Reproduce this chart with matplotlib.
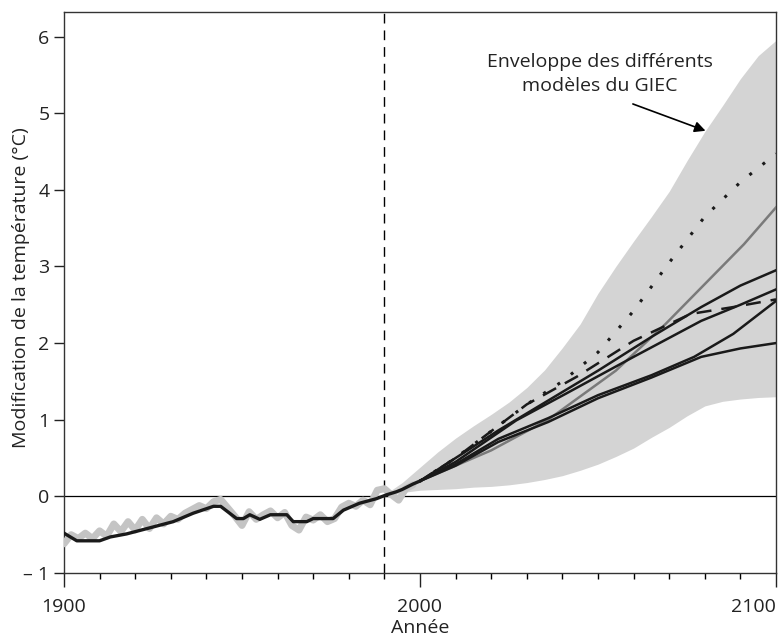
import matplotlib
matplotlib.use('Agg')
import matplotlib.pyplot as plt
import numpy as np
from matplotlib.ticker import MultipleLocator

# observed (gray, noisy) and smoothed (black) record 1900-2000
obs_years = [1900, 1902, 1904, 1906, 1908, 1910, 1912, 1914, 1916, 1918, 1920, 1922, 1924,
             1926, 1928, 1930, 1932, 1934, 1936, 1938, 1940, 1942, 1944, 1946, 1948, 1950,
             1952, 1954, 1956, 1958, 1960, 1962, 1964, 1966, 1968, 1970, 1972, 1974, 1976,
             1978, 1980, 1982, 1984, 1986, 1988, 1990, 1992, 1994, 1996, 1998]
obs_vals = [-0.62, -0.5, -0.55, -0.48, -0.55, -0.45, -0.52, -0.36, -0.46, -0.33, -0.44, -0.3, -0.42,
            -0.28, -0.36, -0.26, -0.3, -0.22, -0.17, -0.12, -0.16, -0.07, -0.04, -0.15, -0.26, -0.38,
            -0.2, -0.3, -0.24, -0.19, -0.28, -0.21, -0.38, -0.44, -0.27, -0.31, -0.24, -0.33, -0.29,
            -0.14, -0.09, -0.13, -0.05, -0.11, 0.08, 0.1, 0.02, -0.05, 0.1, 0.15]

smooth_years = [1900, 1903.6, 1910, 1913, 1917.6, 1925, 1930.7, 1936.3, 1942, 1944, 1948.5, 1950.4,
                1952.2, 1955, 1958, 1962.6, 1964.4, 1968.2, 1970, 1975.6, 1978.5, 1983, 1987.8,
                1990.6, 1993.4, 1995, 1998, 2000]
smooth_vals = [-0.48, -0.58, -0.58, -0.53, -0.49, -0.40, -0.33, -0.22, -0.13, -0.13, -0.29, -0.29,
               -0.24, -0.30, -0.24, -0.24, -0.33, -0.33, -0.29, -0.29, -0.18, -0.09, -0.03,
               0.02, 0.06, 0.09, 0.16, 0.2]

# envelope of IPCC models
env_years = [1990, 1995, 2000, 2005, 2010, 2015, 2020, 2025, 2030, 2035, 2040, 2045, 2050, 2055,
             2060, 2065, 2070, 2075, 2080, 2085, 2090, 2095, 2100]
env_upper = [0.02, 0.18, 0.38, 0.58, 0.76, 0.92, 1.07, 1.23, 1.42, 1.65, 1.94, 2.25, 2.65, 3.0,
             3.33, 3.65, 3.98, 4.38, 4.76, 5.1, 5.45, 5.75, 5.95]
env_lower = [-0.02, 0.05, 0.08, 0.09, 0.1, 0.12, 0.13, 0.15, 0.18, 0.22, 0.27, 0.34, 0.42, 0.52,
             0.63, 0.77, 0.9, 1.05, 1.18, 1.24, 1.27, 1.29, 1.3]

# scenarios
dot_years = [2000, 2010, 2020, 2030, 2040, 2050, 2060, 2070, 2080, 2090, 2100]
dot_vals = [0.2, 0.5, 0.85, 1.2, 1.5, 1.88, 2.42, 3.05, 3.65, 4.1, 4.47]

dash_years = [2000, 2010, 2018, 2030, 2044, 2060, 2076, 2088, 2100]
dash_vals = [0.2, 0.5, 0.78, 1.2, 1.56, 2.03, 2.38, 2.47, 2.57]

gray_years = [2000, 2010, 2020, 2036, 2055, 2069, 2091, 2100]
gray_vals = [0.2, 0.4, 0.6, 1.0, 1.64, 2.25, 3.29, 3.77]

a_years = [2000, 2010, 2022, 2036, 2050, 2065, 2079, 2090, 2100]
a_vals = [0.2, 0.5, 0.86, 1.25, 1.64, 2.08, 2.47, 2.75, 2.95]
b_years = [2000, 2010, 2027, 2041, 2060, 2079, 2090, 2100]
b_vals = [0.2, 0.45, 0.99, 1.34, 1.82, 2.29, 2.5, 2.7]
c_years = [2000, 2010, 2022, 2036, 2050, 2065, 2077, 2088, 2100]
c_vals = [0.2, 0.42, 0.75, 1.02, 1.32, 1.58, 1.82, 2.12, 2.55]
d_years = [2000, 2010, 2022, 2036, 2050, 2065, 2079, 2090, 2100]
d_vals = [0.2, 0.4, 0.71, 0.97, 1.28, 1.55, 1.82, 1.93, 2.0]

plt.rcParams['font.family'] = ['Open Sans', 'DejaVu Sans']

fig = plt.figure(figsize=(7.84, 6.42), dpi=100)
ax = fig.add_axes([0.0816, 0.1075, 0.9082, 0.8738])

ax.fill_between(env_years, env_lower, env_upper, color='#d4d4d4', lw=0, zorder=1)
ax.axhline(0, color='black', lw=0.9, zorder=2)
ax.axvline(1990, color='black', lw=1.0, ls=(0, (7, 5)), zorder=2)

ax.plot(obs_years, obs_vals, color='#c4c4c4', lw=5, solid_capstyle='round', zorder=3)
ax.plot(smooth_years, smooth_vals, color='#1a1a1a', lw=2.4, zorder=4)

ax.plot(gray_years, gray_vals, color='#7a7a7a', lw=1.8, zorder=5)
for yy, vv in [(a_years, a_vals), (b_years, b_vals), (c_years, c_vals), (d_years, d_vals)]:
    ax.plot(yy, vv, color='#1a1a1a', lw=1.8, zorder=6)
ax.plot(dash_years, dash_vals, color='#1a1a1a', lw=1.8, ls=(0, (6, 4)), zorder=6)
ax.plot(dot_years, dot_vals, color='#1a1a1a', lw=2.2, ls=(0, (1, 4.5)), zorder=6)

ax.text(2050.6, 5.51, 'Enveloppe des différents\nmodèles du GIEC', ha='center', va='center',
        fontsize=14, color='#222222', linespacing=1.45)
ax.annotate('', xy=(2080.2, 4.77), xytext=(2059.8, 5.12),
            arrowprops=dict(arrowstyle='-|>', color='black', lw=1.2, mutation_scale=16,
                            shrinkA=0, shrinkB=0))

ax.set_xlim(1900, 2100)
ax.set_ylim(-1, 6.32)
ax.set_xticks([1900, 2000, 2100])
ax.set_xticklabels(['1900', '2000', '2100'])
ax.get_xticklabels()[2].set_ha('right')
ax.xaxis.set_minor_locator(MultipleLocator(10))
ax.set_yticks(range(-1, 7))
ax.set_yticklabels(['\u2013 1'] + [str(i) for i in range(0, 7)])
ax.tick_params(axis='both', which='major', labelsize=14, direction='out', length=7, width=1,
               colors='#222222')
ax.tick_params(axis='x', which='major', length=10, pad=8)
ax.tick_params(axis='x', which='minor', length=4, width=1)
ax.set_xlabel('Année', fontsize=14, color='#222222', labelpad=2)
ax.set_ylabel('Modification de la température (°C)', fontsize=14, color='#222222')
ax.yaxis.set_label_coords(-0.048, 0.508)
for s in ax.spines.values():
    s.set_linewidth(1.0)
    s.set_color('#333333')

fig.savefig('out.png', dpi=100)
